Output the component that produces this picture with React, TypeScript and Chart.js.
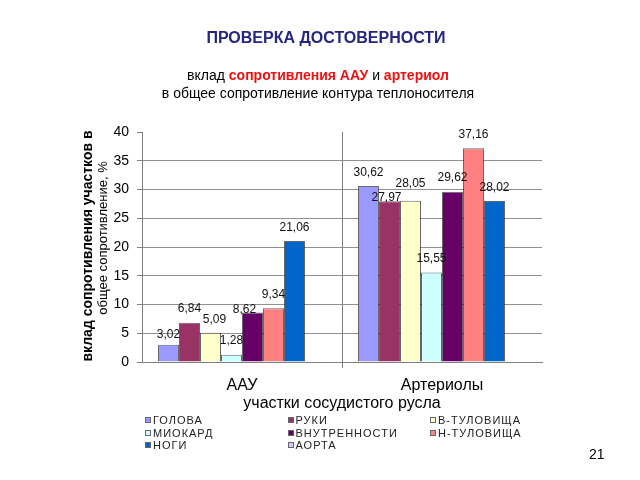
import React, { useEffect, useRef } from "react";
import { Chart, registerables } from "chart.js";

Chart.register(...registerables);

const categories = ["ААУ", "Артериолы"];
const seriesNames = ["ГОЛОВА", "РУКИ", "В-ТУЛОВИЩА", "МИОКАРД", "ВНУТРЕННОСТИ", "Н-ТУЛОВИЩА", "НОГИ", "АОРТА"];
const seriesColors = ["#9999FF", "#993366", "#FFFFCC", "#CCFFFF", "#660066", "#FF8080", "#0066CC", "#CCCCFF"];
const golova = [3.02, 30.62];
const ruki = [6.84, 27.97];
const vTulovischa = [5.09, 28.05];
const miokard = [1.28, 15.55];
const vnutrennosti = [8.62, 29.62];
const nTulovischa = [9.34, 37.16];
const nogi = [21.06, 28.02];
const aorta = [0, 0];
const seriesValues = [golova, ruki, vTulovischa, miokard, vnutrennosti, nTulovischa, nogi, aorta];
const showLabels = [true, true, true, true, true, true, true, false];

// label placement nudges (dx, dy in px) per series / category, as in the source slide
const labelNudge: Record<string, [number, number]> = {
  "0-0": [0, 4],
  "2-0": [4, 0],
  "4-0": [-8, 11],
  "1-1": [-3, 10],
  "2-1": [0, -4],
};

const yTitleLine1 = "вклад сопротивления участков в";
const yTitleLine2 = "общее сопротивление, %";
const xTitle = "участки сосудистого русла";

const FONT = "Arial, 'Liberation Sans', sans-serif";

const labelPlugin = {
  id: "valueLabels",
  afterDatasetsDraw(chart: any) {
    const ctx = chart.ctx;
    ctx.save();
    ctx.font = `12px ${FONT}`;
    ctx.fillStyle = "#111";
    ctx.textAlign = "center";
    ctx.textBaseline = "middle";
    chart.data.datasets.forEach((ds: any, i: number) => {
      if (!showLabels[i]) return;
      const meta = chart.getDatasetMeta(i);
      meta.data.forEach((bar: any, j: number) => {
        const v = ds.data[j];
        const n = labelNudge[`${i}-${j}`] || [0, 0];
        ctx.fillText(v.toFixed(2).replace(".", ","), bar.x + n[0], bar.y - 13.5 + n[1]);
      });
    });
    ctx.restore();
  },
  afterDraw(chart: any) {
    const ctx = chart.ctx;
    ctx.save();
    ctx.fillStyle = "#000";
    ctx.textAlign = "center";
    ctx.textBaseline = "middle";
    ctx.translate(88, 246);
    ctx.rotate(-Math.PI / 2);
    ctx.font = `bold 14px ${FONT}`;
    ctx.fillText(yTitleLine1, 0, 0);
    ctx.font = `13px ${FONT}`;
    ctx.fillText(yTitleLine2, 8, 15);
    ctx.restore();
  },
};

export default function App() {
  const ref = useRef<HTMLCanvasElement>(null);
  useEffect(() => {
    if (!ref.current) return;
    const chart = new Chart(ref.current, {
      type: "bar",
      data: {
        labels: categories,
        datasets: seriesNames.map((name, i) => ({
          label: name,
          data: seriesValues[i],
          backgroundColor: seriesColors[i],
          borderColor: "rgba(40,40,40,0.7)",
          borderWidth: 1,
          categoryPercentage: 0.84,
          barPercentage: 1,
        })),
      },
      options: {
        animation: false,
        responsive: false,
        layout: { padding: { left: 0, top: 132, right: 98, bottom: 0 } },
        plugins: { legend: { display: false }, tooltip: { enabled: false }, title: { display: false } },
        scales: {
          x: {
            offset: true,
            afterFit: (s: any) => { s.height = 118; },
            grid: {
              offset: true,
              drawTicks: true,
              tickLength: 6,
              color: (c: any) => (c.index === 1 ? "#808080" : "rgba(0,0,0,0)"),
              tickColor: (c: any) => (c.index === 1 ? "#808080" : "rgba(0,0,0,0)"),
            },
            border: { display: true, color: "#808080" },
            ticks: { color: "#000", font: { family: FONT, size: 16 }, padding: 8 },
            title: {
              display: true,
              text: xTitle,
              color: "#000",
              font: { family: FONT, size: 16 },
              padding: { top: 0, bottom: 67 },
            },
          },
          y: {
            min: 0,
            max: 40,
            afterFit: (s: any) => { s.width = 142; },
            ticks: { stepSize: 5, color: "#000", font: { family: FONT, size: 14 }, padding: 8 },
            grid: {
              color: (c: any) => (c.tick && c.tick.value === 40 ? "rgba(0,0,0,0)" : "#909090"),
              tickColor: "#808080",
              tickLength: 5,
            },
            border: { display: true, color: "#808080" },
          },
        },
      },
      plugins: [labelPlugin],
    });
    return () => chart.destroy();
  }, []);

  return (
    <div style={{ position: "absolute", left: 0, top: 0, width: 640, height: 480, background: "#fff", fontFamily: FONT }}>
      <canvas ref={ref} width={640} height={480} style={{ position: "absolute", left: 0, top: 0 }} />
      <div style={{ position: "absolute", left: 0, width: 652, top: 29, textAlign: "center", fontSize: 16, fontWeight: "bold", color: "#262680" }}>
        ПРОВЕРКА ДОСТОВЕРНОСТИ
      </div>
      <div style={{ position: "absolute", left: 0, width: 636, top: 66, textAlign: "center", fontSize: 14, color: "#000", lineHeight: "18px" }}>
        вклад <span style={{ color: "#EE1111", fontWeight: "bold" }}>сопротивления ААУ</span> и <span style={{ color: "#EE1111", fontWeight: "bold" }}>артериол</span>
        <br />в общее сопротивление контура теплоносителя
      </div>
      {seriesNames.map((name, i) => {
        const row = Math.floor(i / 3);
        const col = i % 3;
        return (
          <div key={name} style={{ position: "absolute", left: 145 + col * 142.5, top: 413 + row * 12.7, height: 14, display: "flex", alignItems: "center", fontSize: 11, letterSpacing: 1, color: "#222", whiteSpace: "nowrap" }}>
            <span style={{ display: "inline-block", width: 4, height: 4, background: seriesColors[i], border: "1px solid #666", marginRight: 2 }} />
            {name}
          </div>
        );
      })}
      <div style={{ position: "absolute", left: 589, top: 446, fontSize: 14, color: "#000" }}>21</div>
    </div>
  );
}
